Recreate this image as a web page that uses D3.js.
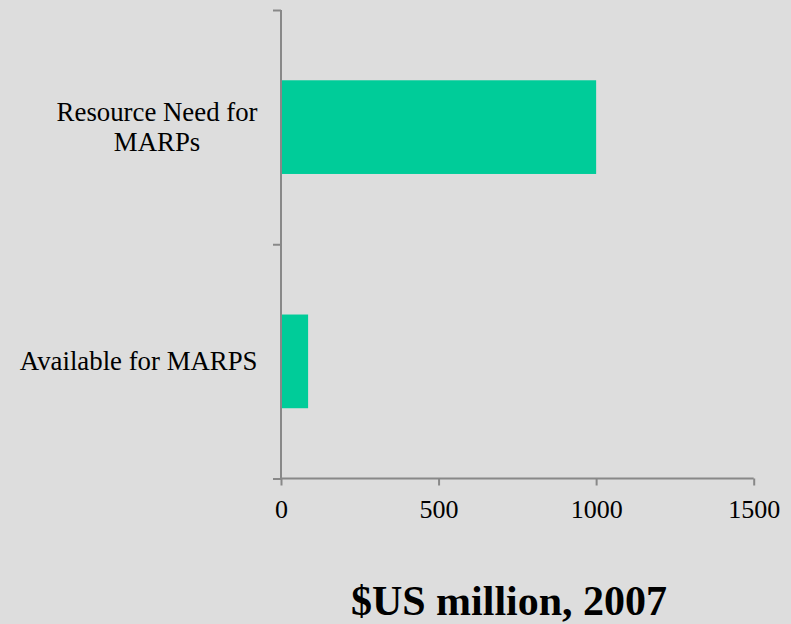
<!DOCTYPE html>
<html>
<head>
<meta charset="utf-8">
<script src="https://cdn.jsdelivr.net/npm/d3@7"></script>
<style>
  html, body { margin: 0; padding: 0; background: #dddddd; }
  svg { display: block; }
</style>
</head>
<body>
<svg id="chart" width="791" height="624"></svg>
<script>
const categories = [["Resource Need for", "MARPs"], ["Available for MARPS"]];
const categoryKeys = ["Resource Need for MARPs", "Available for MARPS"];
const values = [1000, 86];
const xTicks = [0, 500, 1000, 1500];
const xTitle = "$US million, 2007";

(function () {
const svg = d3.select("#chart");
const W = 791, H = 624;
svg.append("rect").attr("width", W).attr("height", H).attr("fill", "#dddddd");

const mLeft = 281, mRight = 753.7, mTop = 10, mBottom = 478.5;
const axisColor = "#888888";
const font = "'Liberation Serif', 'Times New Roman', serif";

const x = d3.scaleLinear().domain([0, 1500]).range([mLeft, mRight]);
const y = d3.scaleBand().domain(categoryKeys).range([mTop, mBottom])
  .paddingInner(0.6).paddingOuter(0.3);
const yBound = d3.scaleLinear().domain([0, categoryKeys.length]).range([mTop, mBottom]);

// bars
svg.append("g").selectAll("rect").data(values).join("rect")
  .attr("x", x(0))
  .attr("y", (d, i) => y(categoryKeys[i]))
  .attr("width", d => x(d) - x(0))
  .attr("height", y.bandwidth())
  .attr("fill", "#00cc99");

// y axis (boundary ticks)
const yAxis = svg.append("g").attr("transform", `translate(${mLeft},0)`)
  .call(d3.axisLeft(yBound).tickValues(d3.range(categoryKeys.length + 1)).tickSize(8).tickFormat(""));
yAxis.selectAll("path,line").attr("stroke", axisColor).attr("stroke-width", 2);
yAxis.select(".domain").attr("d", `M0,${mTop}V${mBottom}`);

// x axis
const xAxis = svg.append("g").attr("transform", `translate(0,${mBottom})`)
  .call(d3.axisBottom(x).tickValues(xTicks).tickSize(7).tickPadding(10).tickFormat(d3.format("d")));
xAxis.selectAll("path,line").attr("stroke", axisColor).attr("stroke-width", 2);
xAxis.select(".domain").attr("d", `M${mLeft},0H${mRight}`);
xAxis.selectAll("text")
  .attr("fill", "#000").attr("font-family", font).attr("font-size", 26)
  .attr("dy", null).attr("y", 39);

// category labels
const labelG = svg.append("g");
categories.forEach((lines, i) => {
  const cy = y(categoryKeys[i]) + y.bandwidth() / 2;
  const fontSize = 26.8, lh = 30;
  const t = labelG.append("text")
    .attr("font-family", font).attr("font-size", fontSize).attr("fill", "#000")
    .attr("text-anchor", "middle");
  const startY = cy - (lines.length - 1) * lh / 2 + 8.5;
  lines.forEach((ln, j) => {
    t.append("tspan").attr("y", startY + j * lh).text(ln);
  });
  let maxW = 0;
  t.selectAll("tspan").each(function() { maxW = Math.max(maxW, this.getComputedTextLength()); });
  const cx = 257.5 - maxW / 2;
  t.selectAll("tspan").attr("x", cx);
});

// x title
svg.append("text")
  .attr("x", 509).attr("y", 615)
  .attr("text-anchor", "middle")
  .attr("font-family", font).attr("font-weight", "bold").attr("font-size", 42)
  .attr("fill", "#000")
  .text(xTitle);
})();
</script>
</body>
</html>
